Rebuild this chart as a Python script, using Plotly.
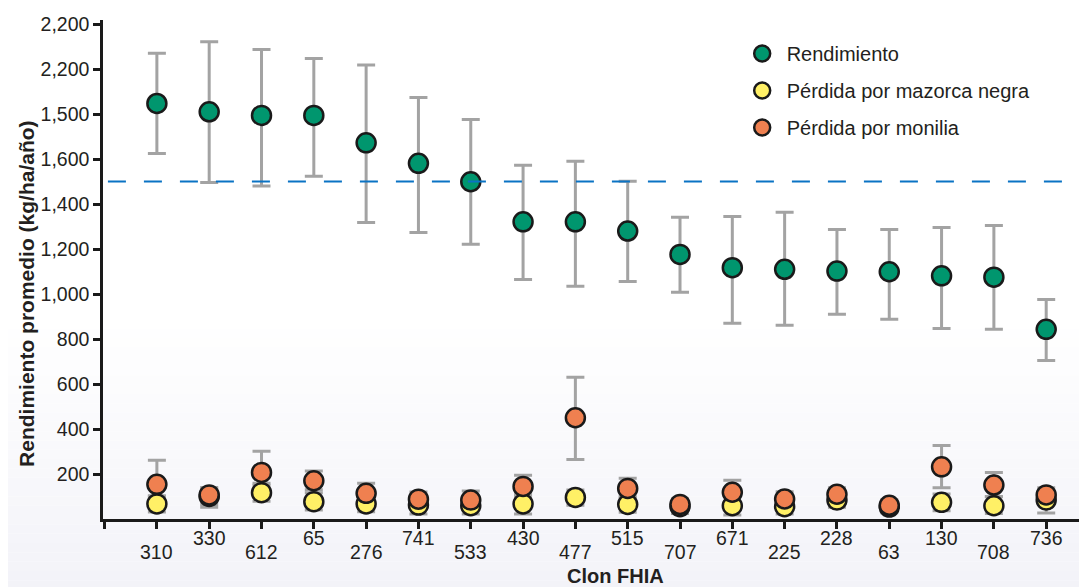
import plotly.graph_objects as go

clones = ["310", "330", "612", "65", "276", "741", "533", "430", "477", "515",
          "707", "671", "225", "228", "63", "130", "708", "736"]

rend = [1847, 1810, 1794, 1794, 1672, 1581, 1499, 1321, 1321, 1280,
        1176, 1117, 1110, 1102, 1099, 1081, 1075, 843]
rend_hi = [2070, 2121, 2087, 2047, 2018, 1874, 1776, 1572, 1590, 1501,
           1341, 1345, 1363, 1287, 1287, 1296, 1305, 976]
rend_lo = [1625, 1496, 1480, 1524, 1318, 1274, 1221, 1065, 1034, 1056,
           1008, 870, 861, 910, 888, 847, 843, 705]

mazorca = [67, 100, 117, 77, 67, 62, 59, 67, 96, 65,
           55, 59, 55, 84, 53, 74, 59, 84]
mazorca_hi = [103, 135, 159, 117, 102, 100, 96, 112, 129, 100,
              85, 99, 88, 114, 78, 111, 99, 114]
mazorca_lo = [31, 65, 79, 40, 32, 22, 22, 22, 61, 30,
              25, 18, 22, 52, 28, 37, 25, 27]

monilia = [154, 107, 207, 170, 114, 88, 84, 145, 450, 136,
           65, 119, 89, 110, 61, 232, 151, 107]
monilia_hi = [261, 140, 301, 213, 159, 120, 124, 194, 630, 181,
              90, 172, 121, 139, 86, 327, 207, 139]
monilia_lo = [100, 52, 150, 130, 75, 55, 50, 100, 265, 95,
              40, 70, 60, 80, 40, 139, 100, 80]

ytick_vals = [200, 400, 600, 800, 1000, 1200, 1400, 1600, 1800, 2000, 2200]
ytick_text = ["200", "400", "600", "800", "1,000", "1,200", "1,400", "1,600",
              "1,500", "2,200", "2,200"]
ref_line = 1500

series = [
    ("Rendimiento", rend, rend_hi, rend_lo, "#00966E"),
    ("Pérdida por mazorca negra", mazorca, mazorca_hi, mazorca_lo, "#FFF066"),
    ("Pérdida por monilia", monilia, monilia_hi, monilia_lo, "#EF8050"),
]

FONT = "Liberation Sans, Arial"
TXT = "#231F20"

xs = list(range(len(clones)))
fig = go.Figure()

# error bars first (below all markers)
for name, vals, hi, lo, col in series:
    fig.add_trace(go.Scatter(
        x=xs, y=vals, mode="markers",
        marker=dict(size=1, opacity=0),
        error_y=dict(type="data", symmetric=False,
                     array=[h - v for h, v in zip(hi, vals)],
                     arrayminus=[v - l for v, l in zip(vals, lo)],
                     color="#A3A3A3", thickness=3, width=9),
        showlegend=False, hoverinfo="skip", cliponaxis=False))

for i, (name, vals, hi, lo, col) in enumerate(series):
    fig.add_trace(go.Scatter(
        x=xs, y=vals, mode="markers", name=name, legendgroup=str(i),
        marker=dict(size=19, color=col, line=dict(color="#1A1A1A", width=2.5)),
        cliponaxis=False))

# background gradient (lower part)
n = 30
top_p, bot_p = 0.40, -0.16
for k in range(n):
    y0 = top_p + (bot_p - top_p) * k / n
    y1 = top_p + (bot_p - top_p) * (k + 1) / n
    t = (k + 0.5) / n
    r = round(255 - t * 13)
    g = round(255 - t * 13)
    b = round(255 - t * 7)
    fig.add_shape(type="rect", xref="paper", yref="paper", x0=-0.12, x1=1.01,
                  y0=y0, y1=y1, fillcolor=f"rgb({r},{g},{b})",
                  line=dict(width=0), layer="below")

fig.add_shape(type="line", xref="paper", yref="y", x0=0.005, x1=1, y0=ref_line, y1=ref_line,
              line=dict(color="#0A73C4", width=2, dash="18px,18px"))

annotations = []
for i, c in enumerate(clones):
    annotations.append(dict(x=i, y=0, xref="x", yref="paper", text=c, showarrow=False,
                            yanchor="middle", xanchor="center",
                            yshift=-33 if i % 2 == 0 else -19,
                            font=dict(family=FONT, size=19.5, color=TXT)))
annotations.append(dict(x=0.521, y=0, xref="paper", yref="paper", text="<b>Clon FHIA</b>",
                        showarrow=False, yanchor="middle", xanchor="center", yshift=-57,
                        font=dict(family=FONT, size=20, color=TXT)))
annotations.append(dict(x=0, y=0.451, xref="paper", yref="paper",
                        text="<b>Rendimiento promedio (kg/ha/año)</b>", textangle=-90,
                        showarrow=False, xanchor="center", yanchor="middle", xshift=-76,
                        font=dict(family=FONT, size=21, color=TXT)))

# the page body adds an 8px offset; size the figure so the plot lands where intended
fig.update_layout(
    width=1079, height=579,
    margin=dict(l=95, r=0, t=12, b=68),
    paper_bgcolor="white", plot_bgcolor="rgba(0,0,0,0)",
    annotations=annotations,
    legend=dict(x=0.645, y=0.972, xanchor="left", yanchor="top",
                bgcolor="rgba(0,0,0,0)", tracegroupgap=8, itemwidth=39,
                font=dict(family=FONT, size=20, color=TXT)),
    xaxis=dict(range=[-1.03, 17.78], tickvals=[-1] + xs, showticklabels=False,
               ticks="outside", ticklen=7, tickwidth=2.5, tickcolor="#1A1A1A",
               showline=True, linecolor="#1A1A1A", linewidth=2.5,
               showgrid=False, zeroline=False),
    yaxis=dict(range=[0, 2218], tickvals=ytick_vals, ticktext=ytick_text,
               ticks="outside", ticklen=7, tickwidth=2.5, tickcolor="#1A1A1A",
               showline=True, linecolor="#1A1A1A", linewidth=2.5,
               showgrid=False, zeroline=False,
               tickfont=dict(family=FONT, size=19.5, color=TXT)),
)

fig.write_html("out.html")
